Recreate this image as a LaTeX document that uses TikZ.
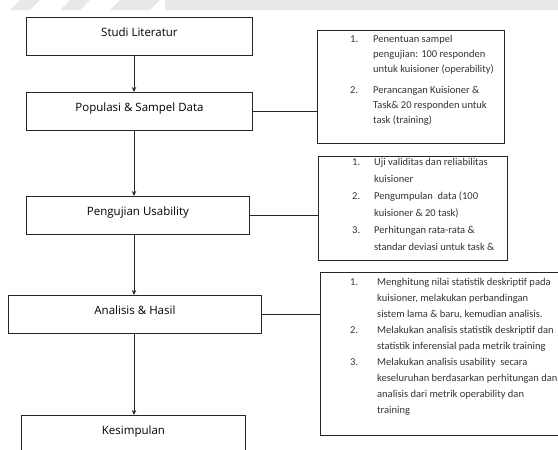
\documentclass[tikz,border=0pt]{standalone}
\usepackage{fontspec}
\setmainfont{Carlito}
\newfontfamily\titlefont{Open Sans}
\usetikzlibrary{arrows.meta}
\begin{document}
\begin{tikzpicture}[x=1pt,y=-1pt,
  stepbox/.style={draw=black!85, line width=0.9pt, anchor=north west, inner sep=0pt,
    font=\titlefont\fontsize{11.5}{14}\selectfont, text height=8pt, text depth=8.5pt},
  notebox/.style={draw=black!85, line width=0.9pt, anchor=north west, inner sep=0pt},
  notetext/.style={anchor=north west, inner sep=0pt, align=left, text=black!80},
  flow/.style={line width=0.9pt, draw=black!85, -{Stealth[length=5pt,width=4.5pt]}},
  link/.style={line width=0.9pt, draw=black!85}]
\clip (0,0) rectangle (558,450);
\useasboundingbox (0,0) rectangle (558,450);
% faint watermark band
\fill[gray!18] (165,0) rectangle (558,10);
\fill[gray!18] (20,0) -- (40,0) -- (30,10) -- (10,10) -- cycle;
\fill[gray!18] (70,0) -- (90,0) -- (80,10) -- (60,10) -- cycle;
\fill[gray!18] (120,0) -- (160,0) -- (150,10) -- (110,10) -- cycle;
% left steps
\node[stepbox, minimum width=226pt, minimum height=38pt] (A) at (26,17) {Studi Literatur};
\node[stepbox, minimum width=226pt, minimum height=38pt] (B) at (26,92) {Populasi \& Sampel Data};
\node[stepbox, minimum width=223pt, minimum height=38pt] (C) at (26,196) {Pengujian Usability};
\node[stepbox, minimum width=253pt, minimum height=38pt] (D) at (8,295) {Analisis \& Hasil};
\node[stepbox, minimum width=224pt, minimum height=60pt, text depth=30pt] (E) at (21,415) {Kesimpulan};
\coordinate (ax) at (134,0);
\draw[flow] (A.south -| ax) -- (B.north -| ax);
\draw[flow] (B.south -| ax) -- (C.north -| ax);
\draw[flow] (C.south -| ax) -- (D.north -| ax);
\draw[flow] (D.south -| ax) -- (E.north -| ax);
% right note boxes
\node[notebox, minimum width=187pt, minimum height=113pt] (R1) at (317,30) {};
\node[notebox, minimum width=189pt, minimum height=104pt] (R2) at (318,156) {};
\node[notebox, minimum width=245pt, minimum height=163pt] (R3) at (320,272) {};
\draw[link] (B.east) -- (B.east -| R1.west);
\draw[link] (C.east) -- (C.east -| R2.west);
\draw[link] (D.east) -- (D.east -| R3.west);
% note texts
\node[notetext, font=\fontsize{10.5}{15}\selectfont] (T1) at (350,35) {%
\makebox[23pt][l]{1.}Penentuan sampel\\
\hspace*{23pt}pengujian: 100 responden\\
\hspace*{23pt}untuk kuisioner (operability)\\[6pt]
\makebox[23pt][l]{2.}Perancangan Kuisioner \&\\
\hspace*{23pt}Task\& 20 responden untuk\\
\hspace*{23pt}task (training)};
\node[notetext, font=\fontsize{10.5}{17}\selectfont] (T2) at (352,158) {%
\makebox[22pt][l]{1.}Uji validitas dan reliabilitas\\
\hspace*{22pt}kuisioner\\
\makebox[22pt][l]{2.}Pengumpulan\ \ data (100\\
\hspace*{22pt}kuisioner \& 20 task)\\
\makebox[22pt][l]{3.}Perhitungan rata-rata \&\\
\hspace*{22pt}standar deviasi untuk task \&};
\node[notetext, font=\fontsize{10.5}{16}\selectfont] (T3) at (350,278) {%
\makebox[27pt][l]{1.}Menghitung nilai statistik deskriptif pada\\
\hspace*{27pt}kuisioner, melakukan perbandingan\\
\hspace*{27pt}sistem lama \& baru, kemudian analisis.\\
\makebox[27pt][l]{2.}Melakukan analisis statistik deskriptif dan\\
\hspace*{27pt}statistik inferensial pada metrik training\\
\makebox[27pt][l]{3.}Melakukan analisis usability\ \ secara\\
\hspace*{27pt}keseluruhan berdasarkan perhitungan dan\\
\hspace*{27pt}analisis dari metrik operability dan\\
\hspace*{27pt}training};
\end{tikzpicture}
\end{document}
